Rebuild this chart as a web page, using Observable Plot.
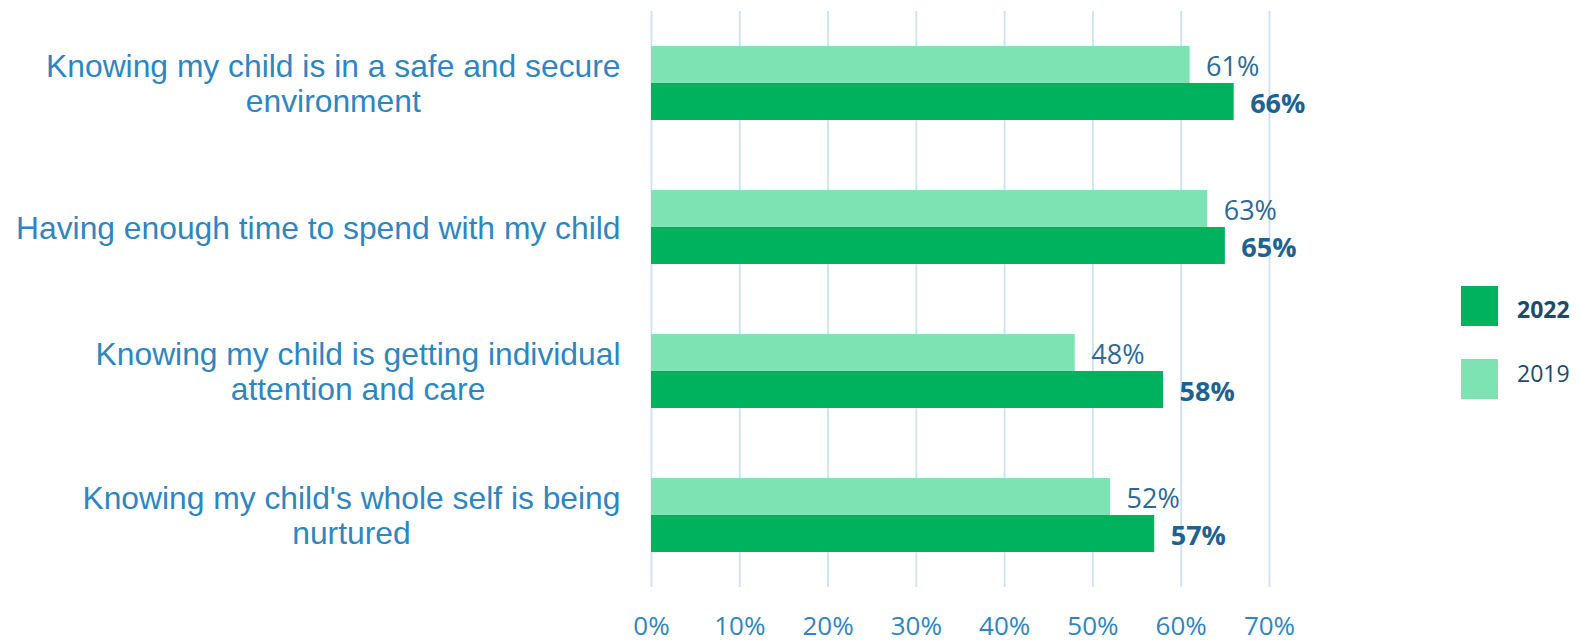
<!DOCTYPE html>
<html>
<head>
<meta charset="utf-8">
<script src="https://cdn.jsdelivr.net/npm/d3@7"></script>
<script src="https://cdn.jsdelivr.net/npm/@observablehq/plot@0.6"></script>
<style>
  html, body { margin: 0; padding: 0; background: #ffffff; }
  #wrap { position: relative; width: 1579px; height: 642px; overflow: hidden; }
  .sw { position: absolute; width: 37px; height: 40px; }
  .lg { position: absolute; font-family: "Open Sans", sans-serif; font-size: 23px; line-height: 23px; color: #1d4a6c; white-space: nowrap; }
</style>
</head>
<body>
<div id="wrap"></div>
<script>
// ---- data ----
const categories = [
  "Knowing my child is in a safe and secure\nenvironment",
  "Having enough time to spend with my child",
  "Knowing my child is getting individual\nattention and care",
  "Knowing my child's whole self is being\nnurtured"
];
const years = ["2019", "2022"];
const values2019 = [61, 63, 48, 52];
const values2022 = [66, 65, 58, 57];
const xTicks = [0, 10, 20, 30, 40, 50, 60, 70];
const legendOrder = ["2022", "2019"];

// ---- styles ----
const yearColors = ["#7de3b2", "#00b15e"];
const gridColor = "#cde1f2";
const labelBlue = "#2e86c1";

const rows = [];
categories.forEach((c, i) => {
  rows.push({category: c, year: "2019", value: values2019[i]});
  rows.push({category: c, year: "2022", value: values2022[i]});
});

const chart = Plot.plot({
  width: 1579,
  height: 642,
  marginLeft: 651,
  marginRight: 310,
  marginTop: 10,
  marginBottom: 54,
  style: {background: "#ffffff", fontFamily: "Open Sans", overflow: "visible"},
  x: {domain: [0, 70], axis: null},
  y: {domain: years, paddingInner: 0, paddingOuter: 0.937, axis: null},
  fy: {domain: categories, padding: 0, axis: null},
  color: {domain: years, range: yearColors},
  marks: [
    Plot.ruleX(xTicks, {x: d => d, stroke: gridColor, strokeWidth: 1.8}),
    Plot.barX(rows, {x: "value", y: "year", fy: "category", fill: "year"}),
    Plot.text(rows.filter(d => d.year === "2019"), {
      x: "value", y: "year", fy: "category", text: d => d.value + "%",
      textAnchor: "start", dx: 16, dy: 2, fontSize: 27, fontFamily: "Open Sans",
      fill: "#2b6a98"
    }),
    Plot.text(rows.filter(d => d.year === "2022"), {
      x: "value", y: "year", fy: "category", text: d => d.value + "%",
      textAnchor: "start", dx: 16, dy: 2, fontSize: 27, fontFamily: "Open Sans",
      fontWeight: "bold", fill: "#1f6190"
    }),
    Plot.axisX(xTicks, {
      anchor: "bottom", tickSize: 0, tickPadding: 29, tickFormat: d => d + "%",
      fontSize: 26, fontFamily: "Open Sans", fill: labelBlue, label: null
    }),
    Plot.axisFy({
      anchor: "left", tickSize: 0, tickPadding: 31, label: null,
      fontSize: 31.8, fontFamily: "Liberation Sans, Arial, sans-serif",
      fill: labelBlue, lineHeight: 1.11, textAnchor: "end"
    })
  ]
});

const wrap = document.getElementById("wrap");
wrap.appendChild(chart);

// center the lines of multi-line category labels within their block (block stays right-aligned)
chart.querySelectorAll('g[aria-label="fy-axis tick label"] text').forEach(t => {
  const spans = t.querySelectorAll("tspan");
  if (spans.length < 2) return;
  let w = 0;
  spans.forEach(s => { w = Math.max(w, s.getComputedTextLength()); });
  t.setAttribute("text-anchor", "middle");
  spans.forEach(s => s.setAttribute("x", -w / 2));
});

// legend
const legendTops = {"2022": 286, "2019": 359};
const legendTextTops = {"2022": 298, "2019": 362};
legendOrder.forEach(y => {
  const sw = document.createElement("div");
  sw.className = "sw";
  sw.style.left = "1461px";
  sw.style.top = legendTops[y] + "px";
  sw.style.background = yearColors[years.indexOf(y)];
  wrap.appendChild(sw);
  const lg = document.createElement("div");
  lg.className = "lg";
  lg.style.left = "1517px";
  lg.style.top = legendTextTops[y] + "px";
  lg.style.fontWeight = y === "2022" ? "bold" : "normal";
  lg.textContent = y;
  wrap.appendChild(lg);
});
</script>
</body>
</html>
